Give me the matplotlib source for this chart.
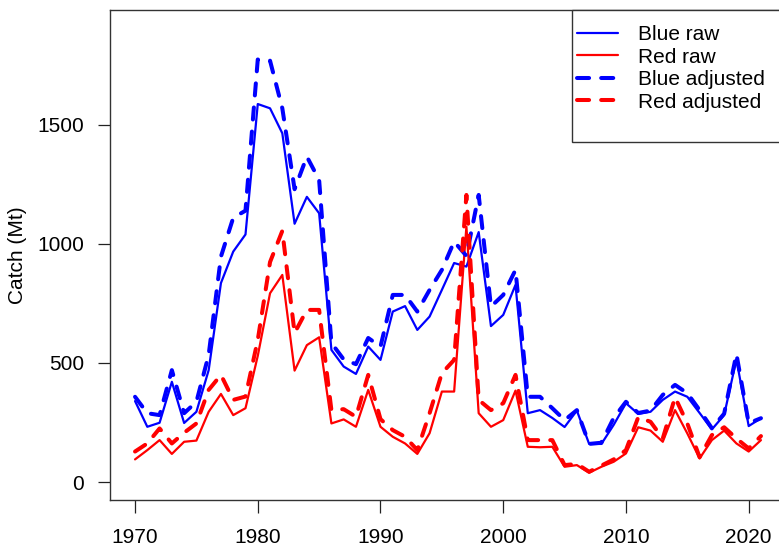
import matplotlib.pyplot as plt
from matplotlib.patches import Rectangle
from matplotlib.lines import Line2D

plt.rcParams['font.family'] = ['Liberation Sans', 'DejaVu Sans']

# catch series, 1970-2021
years = list(range(1970, 2022))

blue_raw = [340, 232, 249, 421, 248, 295, 470, 836, 968, 1040,
            1588, 1570, 1465, 1085, 1198, 1129, 555, 485, 454, 569,
            513, 716, 739, 639, 695, 807, 920, 905, 1050, 655,
            702, 828, 289, 302, 269, 231, 300, 160, 160, 240,
            331, 286, 295, 345, 380, 358, 290, 221, 281, 515,
            235, 268]

red_raw = [95, 134, 176, 118, 169, 174, 295, 370, 281, 310,
           530, 793, 870, 468, 575, 608, 246, 263, 232, 387,
           232, 190, 162, 118, 205, 380, 380, 1073, 289, 232,
           260, 384, 148, 146, 148, 64, 71, 39, 64, 85,
           120, 230, 216, 169, 302, 204, 99, 176, 216, 162,
           128, 176]

blue_adj = [358, 289, 281, 470, 289, 337, 534, 947, 1110, 1140,
            1775, 1770, 1570, 1230, 1367, 1269, 584, 515, 495, 605,
            569, 786, 786, 716, 807, 891, 1010, 950, 1206, 737,
            786, 891, 358, 358, 310, 260, 302, 160, 165, 269,
            337, 290, 300, 366, 408, 373, 302, 226, 287, 538,
            247, 268]

red_adj = [128, 162, 225, 162, 207, 246, 387, 450, 345, 359,
           597, 924, 1055, 626, 723, 723, 302, 306, 274, 450,
           264, 218, 190, 134, 289, 457, 513, 1206, 345, 302,
           331, 450, 176, 176, 176, 71, 76, 43, 69, 95,
           134, 272, 253, 183, 356, 246, 104, 197, 230, 183,
           141, 193]

labels = ['Blue raw', 'Red raw', 'Blue adjusted', 'Red adjusted']

W, H = 779, 554
fig = plt.figure(figsize=(W / 100, H / 100), dpi=100)
ax = fig.add_axes([110 / W, 54 / H, 676 / W, 490 / H])

solid_kw = dict(linewidth=1.6, solid_capstyle='round', solid_joinstyle='round')
dash_kw = dict(linewidth=2.9, linestyle=(0, (3, 3)), dash_capstyle='round',
               dash_joinstyle='round')

ax.plot(years, blue_raw, color='#0000ff', **solid_kw)
ax.plot(years, red_raw, color='#ff0000', **solid_kw)
ax.plot(years, blue_adj, color='#0000ff', **dash_kw)
ax.plot(years, red_adj, color='#ff0000', **dash_kw)

ax.set_xlim(1967.96, 2023.04)
ax.set_ylim(-75.6, 1983)
ax.set_xticks([1970, 1980, 1990, 2000, 2010, 2020])
ax.set_yticks([0, 500, 1000, 1500])
ax.tick_params(axis='both', direction='out', length=9, width=0.9,
               colors='#222222', labelcolor='black', labelsize=15)
ax.tick_params(axis='x', pad=11)
ax.tick_params(axis='y', pad=9.5)
for sp in ax.spines.values():
    sp.set_color('#333333')
    sp.set_linewidth(1.0)

fig.text(18 / W, 1 - 255 / H, 'Catch (Mt)', rotation=90, ha='center',
         va='center', fontsize=15)

# legend box, R style, running off the right edge
box = Rectangle((572 / W, 1 - 142 / H), 0.3, 132 / H, transform=fig.transFigure,
                facecolor='white', edgecolor='#333333', linewidth=1.0,
                zorder=4, clip_on=False)
fig.patches.append(box)

handles = [Line2D([], [], color='#0000ff', **solid_kw),
           Line2D([], [], color='#ff0000', **solid_kw),
           Line2D([], [], color='#0000ff', **dash_kw),
           Line2D([], [], color='#ff0000', **dash_kw)]
leg = fig.legend(handles, labels, loc='upper left',
                 bbox_to_anchor=(577 / W, 1 - 25 / H), frameon=False,
                 fontsize=15, handlelength=1.97, handletextpad=0.96,
                 labelspacing=0.17, borderpad=0, borderaxespad=0)
leg.set_zorder(5)

fig.savefig('out.png', dpi=100)
